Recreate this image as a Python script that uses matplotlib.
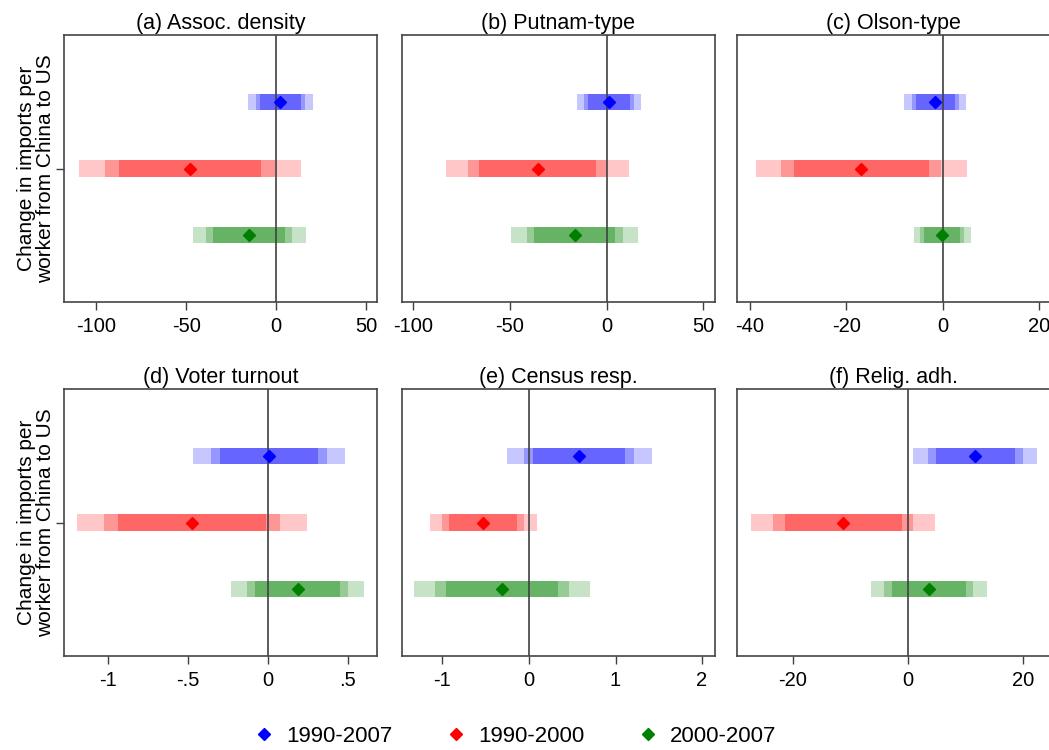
import numpy as np
import matplotlib
matplotlib.use("Agg")
import matplotlib.pyplot as plt
from matplotlib.colors import to_rgb
from matplotlib.lines import Line2D

plt.rcParams['font.family'] = ['Liberation Sans', 'DejaVu Sans']

# panel titles and x-axis settings
titles = ["(a) Assoc. density", "(b) Putnam-type", "(c) Olson-type",
          "(d) Voter turnout", "(e) Census resp.", "(f) Relig. adh."]
xlims = [(-118, 56), (-106, 56), (-42.7, 22.2),
         (-1.275, 0.683), (-1.47, 2.146), (-29.7, 24.6)]
xticks = [[-100, -50, 0, 50], [-100, -50, 0, 50], [-40, -20, 0, 20],
          [-1, -0.5, 0, 0.5], [-1, 0, 1, 2], [-20, 0, 20]]
xticklabels = [["-100", "-50", "0", "50"], ["-100", "-50", "0", "50"],
               ["-40", "-20", "0", "20"], ["-1", "-.5", "0", ".5"],
               ["-1", "0", "1", "2"], ["-20", "0", "20"]]

# point estimates and standard errors, one entry per panel
periods = ["1990-2007", "1990-2000", "2000-2007"]
coef_1990_2007 = [2.2, 1.3, -1.5, 0.007, 0.58, 11.7]
se_1990_2007 = [7.0, 6.5, 2.5, 0.185, 0.325, 4.18]
coef_1990_2000 = [-48.0, -35.7, -16.9, -0.474, -0.53, -11.2]
se_1990_2000 = [24.0, 18.3, 8.5, 0.28, 0.24, 6.2]
coef_2000_2007 = [-15.0, -16.5, -0.1, 0.187, -0.31, 3.62]
se_2000_2007 = [12.2, 12.7, 2.3, 0.162, 0.395, 3.92]

coefs = [coef_1990_2007, coef_1990_2000, coef_2000_2007]
ses = [se_1990_2007, se_1990_2000, se_2000_2007]
colors = ["#0000ff", "#ff0000", "#008000"]
ypos = [3, 2, 1]

# 99%, 95%, 90% intervals, outer to inner, with their tint strength
crit = [2.576, 1.96, 1.645]
tint = [0.22, 0.41, 0.60]


def shade(c, a):
    rgb = np.array(to_rgb(c))
    return tuple(1 - a * (1 - rgb))


fig = plt.figure(figsize=(10.49, 7.5), dpi=100)
W, H = 1049.0, 750.0
lefts = [64, 401.7, 736.7]
tops = [35, 389]
aw, ah = 313, 267

axes = []
for r in range(2):
    for c in range(3):
        ax = fig.add_axes([lefts[c] / W, 1 - (tops[r] + ah) / H, aw / W, ah / H])
        axes.append(ax)

for i, ax in enumerate(axes):
    ax.axvline(0, color="#404040", lw=1.2, zorder=2)
    for k in range(3):
        b, s = coefs[k][i], ses[k][i]
        for z, a in zip(crit, tint):
            ax.barh(ypos[k], 2 * z * s, left=b - z * s, height=0.245,
                    color=shade(colors[k], a), edgecolor="none", zorder=1)
        ax.plot(b, ypos[k], marker="D", ms=5.8, color=colors[k],
                linestyle="none", zorder=3)

    ax.set_xlim(*xlims[i])
    ax.set_ylim(0, 4)
    ax.set_xticks(xticks[i])
    ax.set_xticklabels(xticklabels[i])
    ax.tick_params(axis="x", labelsize=14.5, length=6, width=1, pad=5,
                   color="#404040")
    for sp in ax.spines.values():
        sp.set_color("#444444")
        sp.set_linewidth(1.2)
    ax.set_title(titles[i], fontsize=15.5, pad=4)

    if i % 3 == 0:
        ax.set_yticks([2])
        ax.set_yticklabels([""])
        ax.tick_params(axis="y", length=6, width=1, color="#404040")
        ax.set_ylabel("Change in imports per\nworker from China to US",
                      fontsize=15, linespacing=1.0)
        ax.yaxis.set_label_coords(-0.03, 0.5)
    else:
        ax.set_yticks([])

handles = [Line2D([], [], marker="D", ms=6.5, color=c, linestyle="none")
           for c in colors]
fig.legend(handles, periods, loc="center", ncol=3, frameon=False,
           fontsize=16, bbox_to_anchor=(0.492, 0.018),
           handletextpad=0.6, columnspacing=2.5, handlelength=0.75)

fig.savefig("out.png", dpi=100)
